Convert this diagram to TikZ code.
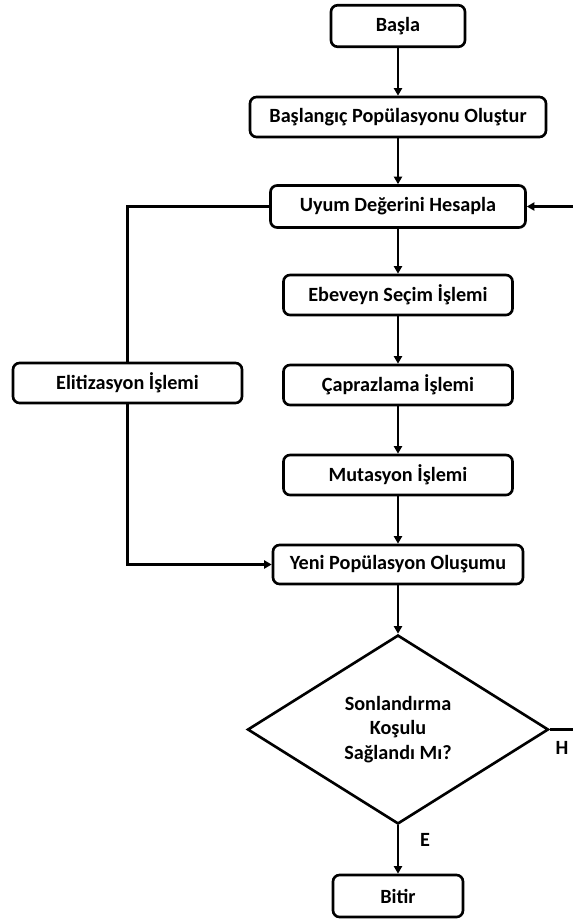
\documentclass[tikz,border=0pt]{standalone}
\usepackage{fontspec}
\setmainfont{Carlito}
\usetikzlibrary{shapes.geometric,arrows.meta}
\begin{document}
\begin{tikzpicture}[x=0.02cm,y=-0.02cm,
  every node/.style={font=\fontsize{11.5}{14}\selectfont\bfseries},
  procbox/.style={draw,line width=1.5pt,rounded corners=0.13cm,minimum height=0.8cm,inner sep=0pt},
  decision/.style={draw,line width=1.5pt,diamond,aspect=1.6,inner sep=0pt,minimum width=6.02cm,minimum height=3.78cm,align=center},
  flow/.style={line width=1.5pt,-{Triangle[length=1.5mm,width=1.6mm]}},
  plainline/.style={line width=1.5pt},
  tag/.style={inner sep=0pt}]
\useasboundingbox (0,0) rectangle (573,923);

% main column, all centred on one vertical axis
\node[procbox,minimum width=2.68cm,minimum height=0.83cm] (start) at (398,26) {Başla};
\node[procbox,minimum width=5.92cm] (init) at (398,117) {Başlangıç Popülasyonu Oluştur};
\node[procbox,minimum width=5.1cm,minimum height=0.84cm] (fit) at (398,206.5) {Uyum Değerini Hesapla};
\node[procbox,minimum width=4.58cm] (sel) at (398,295) {Ebeveyn Seçim İşlemi};
\node[procbox,minimum width=4.58cm] (cross) at (398,385) {Çaprazlama İşlemi};
\node[procbox,minimum width=4.58cm] (mut) at (398,475) {Mutasyon İşlemi};
\node[procbox,minimum width=5.0cm,minimum height=0.78cm] (newpop) at (398,564.5) {Yeni Popülasyon Oluşumu};
\node[decision] (cond) at (398,729.5) {Sonlandırma\\Koşulu\\Sağlandı Mı?};
\node[procbox,minimum width=2.6cm,minimum height=0.84cm] (finish) at (398,896) {Bitir};

% side branch
\node[procbox,minimum width=4.58cm] (elit) at (127.5,383) {Elitizasyon İşlemi};

% loop-back corner (vertical run lies just past the right edge)
\coordinate (rb) at (580,729.5);

% main flow
\draw[flow] (start) -- (init);
\draw[flow] (init) -- (fit);
\draw[flow] (fit) -- (sel);
\draw[flow] (sel) -- (cross);
\draw[flow] (cross) -- (mut);
\draw[flow] (mut) -- (newpop);
\draw[flow] (newpop) -- (cond.north);
\draw[flow] (cond.south) -- (finish);

% elitism branch
\draw[plainline] (fit.west) -| (elit.north);
\draw[flow] (elit.south) |- (newpop.west);

% repeat loop
\draw[flow] (cond.east) -- (rb) |- (fit.east);

% branch labels
\node[tag] (yes) at (425,840) {E};
\node[tag] (no) at (562,748) {H};
\end{tikzpicture}
\end{document}
